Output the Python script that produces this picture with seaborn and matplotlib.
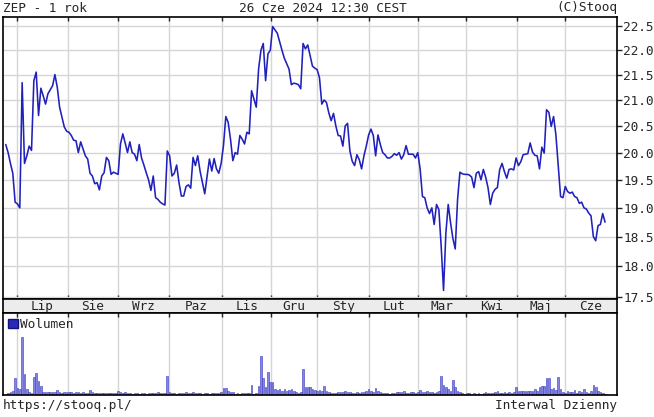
import matplotlib
matplotlib.use("Agg")
import matplotlib.pyplot as plt
import matplotlib.ticker as mticker
from matplotlib.patches import Patch
import seaborn as sns
import numpy as np
import pandas as pd

# daily close, one value per trading day (Jun 2023 - Jun 2024)
price = [
    20.15, 20.0, 19.8, 19.62, 19.1, 19.07, 19.0, 21.34, 19.8, 19.94,
    20.12, 20.04, 21.38, 21.55, 20.7, 21.23, 21.08, 20.92, 21.12, 21.2,
    21.28, 21.5, 21.25, 20.86, 20.67, 20.48, 20.4, 20.38, 20.32, 20.23,
    20.22, 20.0, 20.2, 20.07, 19.94, 19.88, 19.62, 19.57, 19.43, 19.45,
    19.32, 19.57, 19.63,
    19.91, 19.85, 19.6, 19.64, 19.62, 19.6, 20.16, 20.35, 20.18, 20.0,
    20.2, 20.0, 19.97, 19.85, 20.15, 19.9, 19.77, 19.63, 19.5, 19.31,
    19.57, 19.18, 19.15, 19.1, 19.07, 19.05, 20.03, 19.94, 19.57, 19.62,
    19.77, 19.45, 19.21, 19.21, 19.38, 19.41, 19.35, 19.91, 19.76, 19.94,
    19.66,
    19.45, 19.25, 19.57, 19.88, 19.66, 19.89, 19.7, 19.62, 19.8, 20.13,
    20.68, 20.57, 20.25, 19.85, 20.0, 19.97, 20.32, 20.25, 20.16, 20.38,
    20.35, 21.18, 21.02, 20.86, 21.61, 21.99, 22.13, 21.38, 21.92, 21.99,
    22.48, 22.41, 22.34, 22.16, 21.99, 21.83, 21.72, 21.61, 21.3, 21.33,
    21.32, 21.3, 21.22, 22.13,
    22.02, 22.1, 21.88, 21.67, 21.63, 21.6, 21.44,
    20.92, 21.0, 20.95, 20.75, 20.6, 20.74, 20.5, 20.32, 20.31, 20.12,
    20.5, 20.55, 20.03, 19.84, 19.76, 19.96, 19.87, 19.7, 19.94, 20.12,
    20.33, 20.44, 20.32, 19.94, 20.33, 20.15, 20.0, 19.96, 19.9, 19.9,
    19.93, 19.98, 19.95, 20.0, 19.88, 19.96,
    20.13, 19.97, 19.97, 19.97, 19.9, 20.0, 19.7, 19.2, 19.18, 19.0,
    18.9, 19.0, 18.71, 19.06, 18.97, 18.33, 17.6, 18.56, 19.06, 18.74,
    18.47, 18.29, 19.15, 19.64, 19.61, 19.6, 19.6, 19.59, 19.55, 19.36,
    19.62, 19.65, 19.5, 19.69, 19.55, 19.36, 19.06, 19.26, 19.33, 19.36,
    19.69, 19.8, 19.65,
    19.53, 19.69, 19.7, 19.68, 19.9, 19.76, 19.83, 19.96, 19.97, 19.98,
    20.18, 20.01, 19.95, 19.94, 19.7, 20.1, 19.99, 20.81, 20.76, 20.49,
    20.68, 20.33, 19.75, 19.2, 19.18, 19.38, 19.29, 19.26, 19.28, 19.2,
    19.18, 19.08, 19.1, 19.0, 18.98, 18.91, 18.86, 18.5, 18.43, 18.69,
    18.71, 18.9, 18.75,
]

# volume (relative units)
volume = [
    1.5, 2, 3, 4, 16.7, 7, 6, 58, 21, 6,
    2.7, 1.7, 17.7, 22, 14, 9, 3.5, 3, 3.3, 3,
    3.5, 3, 5, 3, 2.5, 3, 3.5, 3, 3, 2.5,
    3.5, 3, 2.5, 3, 2.5, 2, 5, 3, 2.5, 2,
    2, 2.5, 2, 2, 2.5, 2, 2, 2.5, 3.7, 3,
    2.5, 3.5, 2, 2, 1.5, 2.5, 2, 1.5, 2, 2.5,
    1.5, 2, 2.5, 2, 2, 3, 2.5, 2, 2.5, 19,
    3, 2.5, 2, 1.5, 2.5, 2, 2.5, 3, 2, 2.5,
    3.5, 2, 2.5, 2, 1.5, 2, 2.5, 1.5, 2, 2.5,
    2, 2, 3, 7, 6.7, 4.3, 2.7, 3, 1.5, 2,
    1.5, 2, 2.5, 2, 2.5, 10, 1, 2.5, 9, 39,
    16.7, 7.7, 22.7, 13.3, 12.7, 6, 5, 6, 4.3, 6,
    4.3, 5, 6, 4.3, 2.7, 2.5, 3, 26, 8.3, 7.7,
    8.3, 6, 5, 4.3, 5, 4.3, 9.3, 4.3, 2.7, 2,
    2.5, 2, 3, 3.5, 3, 4, 3, 3.5, 2, 2.5,
    3, 2, 3.5, 3, 4, 6, 4.3, 3, 7, 3.7,
    3, 2.5, 2, 2, 1.5, 2, 2.5, 3, 3.5, 3,
    4, 2.5, 2, 3, 3.5, 2.5, 3, 5, 3.5, 3,
    4, 3, 3.5, 2.5, 3, 4, 19.3, 10.3, 8.3, 6,
    3.7, 15, 7.7, 4.3, 2.7, 2, 1.5, 2, 2.5, 1.5,
    2, 1.5, 2.5, 1.5, 2, 3, 2.5, 2, 2.5, 3,
    4.3, 2, 2.5, 3, 2.5, 3, 2.5, 3, 8.3, 4.3,
    4, 4.3, 4, 4.3, 3.7, 4, 6, 4.3, 8.3, 9.3,
    9.3, 16.7, 16.7, 6, 6.7, 5, 17.7, 6, 2.7, 2,
    3.7, 2.7, 2.7, 5, 2.5, 4.3, 3, 6, 2.7, 2.5,
    4.3, 10, 8.3, 3.7, 2.7, 2, 1.5,
]

month_starts = [4.8, 26.5, 48, 69.8, 92.5, 113.4, 133.1, 155.3, 176.1, 196.7, 218.3, 238.9]
month_labels = ["Lip", "Sie", "Wrz", "Paz", "Lis", "Gru", "Sty", "Lut", "Mar", "Kwi", "Maj", "Cze"]
price_ticks = [17.5, 18.0, 18.5, 19.0, 19.5, 20.0, 20.5, 21.0, 21.5, 22.0, 22.5]

df = pd.DataFrame({"day": np.arange(len(price)), "price": price, "volume": volume})

sns.set_style("white")
plt.rcParams["font.family"] = ["DejaVu Sans Mono"]
FS = 9.2
XMIN, XMAX = -1.18, 261.1
W, H = 654, 417


def box(l, t, r, b):
    return [l / W, 1 - b / H, (r - l) / W, (b - t) / H]


fig = plt.figure(figsize=(W / 100, H / 100), dpi=100)
ax = fig.add_axes(box(3, 17, 617, 299))
axs = fig.add_axes(box(3, 299, 617, 313))
axv = fig.add_axes(box(3, 313, 617, 395))

grid_c = "#d6d6d6"

# price panel
sns.lineplot(data=df, x="day", y="price", ax=ax, color="#2020bc", linewidth=1.15)
ax.set_yscale("log")
ax.set_ylim(17.46, 22.68)
ax.set_xlim(XMIN, XMAX)
ax.yaxis.set_major_locator(mticker.FixedLocator(price_ticks))
ax.yaxis.set_minor_locator(mticker.NullLocator())
ax.yaxis.set_major_formatter(mticker.FormatStrFormatter("%.1f"))
ax.yaxis.tick_right()
ax.tick_params(axis="y", direction="out", length=3.5, width=1, labelsize=FS, pad=1)
ax.set_xticks(month_starts)
ax.tick_params(axis="x", direction="in", top=True, bottom=True,
               labelbottom=False, length=3, width=1)
ax.grid(True, color=grid_c, linewidth=1)
ax.set_axisbelow(True)
ax.set_xlabel("")
ax.set_ylabel("")

# month strip
axs.set_facecolor("#ececec")
axs.set_xlim(XMIN, XMAX)
axs.set_ylim(0, 1)
axs.set_xticks([])
axs.set_yticks([])
bounds = month_starts + [XMAX]
for i, lab in enumerate(month_labels):
    axs.text((bounds[i] + bounds[i + 1]) / 2, 0.45, lab, ha="center", va="center", fontsize=FS)

# volume panel
sns.barplot(x=df["day"], y=df["volume"], native_scale=True, ax=axv, color="#8484e4",
            saturation=1, errorbar=None, width=0.7, edgecolor="#3a3ac4", linewidth=0.4)
axv.set_xlim(XMIN, XMAX)
axv.set_ylim(0, 82)
axv.set_yticks([])
axv.set_xticks(month_starts)
axv.tick_params(axis="x", direction="in", top=True, bottom=False,
                labelbottom=False, length=3, width=1)
axv.grid(True, axis="x", color=grid_c, linewidth=1)
axv.set_axisbelow(True)
axv.set_xlabel("")
axv.set_ylabel("")
axv.legend(handles=[Patch(facecolor="#2a2ab8", edgecolor="#14147a", label="Wolumen")],
           loc="upper left", frameon=False, handlelength=0.75, handleheight=0.75,
           handletextpad=0.15, borderaxespad=0.2, borderpad=0.2, fontsize=FS)

for a in (ax, axs, axv):
    for s in a.spines.values():
        s.set_color("black")
        s.set_linewidth(1.2)

fig.text(3 / W, 1 - 8 / H, "ZEP - 1 rok", ha="left", va="center", fontsize=FS)
fig.text(323 / W, 1 - 8 / H, "26 Cze 2024 12:30 CEST", ha="center", va="center", fontsize=FS)
fig.text(617 / W, 1 - 8 / H, "(C)Stooq", ha="right", va="center", fontsize=FS)
fig.text(3 / W, 1 - 406 / H, "https://stooq.pl/", ha="left", va="center", fontsize=FS)
fig.text(617 / W, 1 - 406 / H, "Interwal Dzienny", ha="right", va="center", fontsize=FS)

fig.savefig("out.png", dpi=100)
